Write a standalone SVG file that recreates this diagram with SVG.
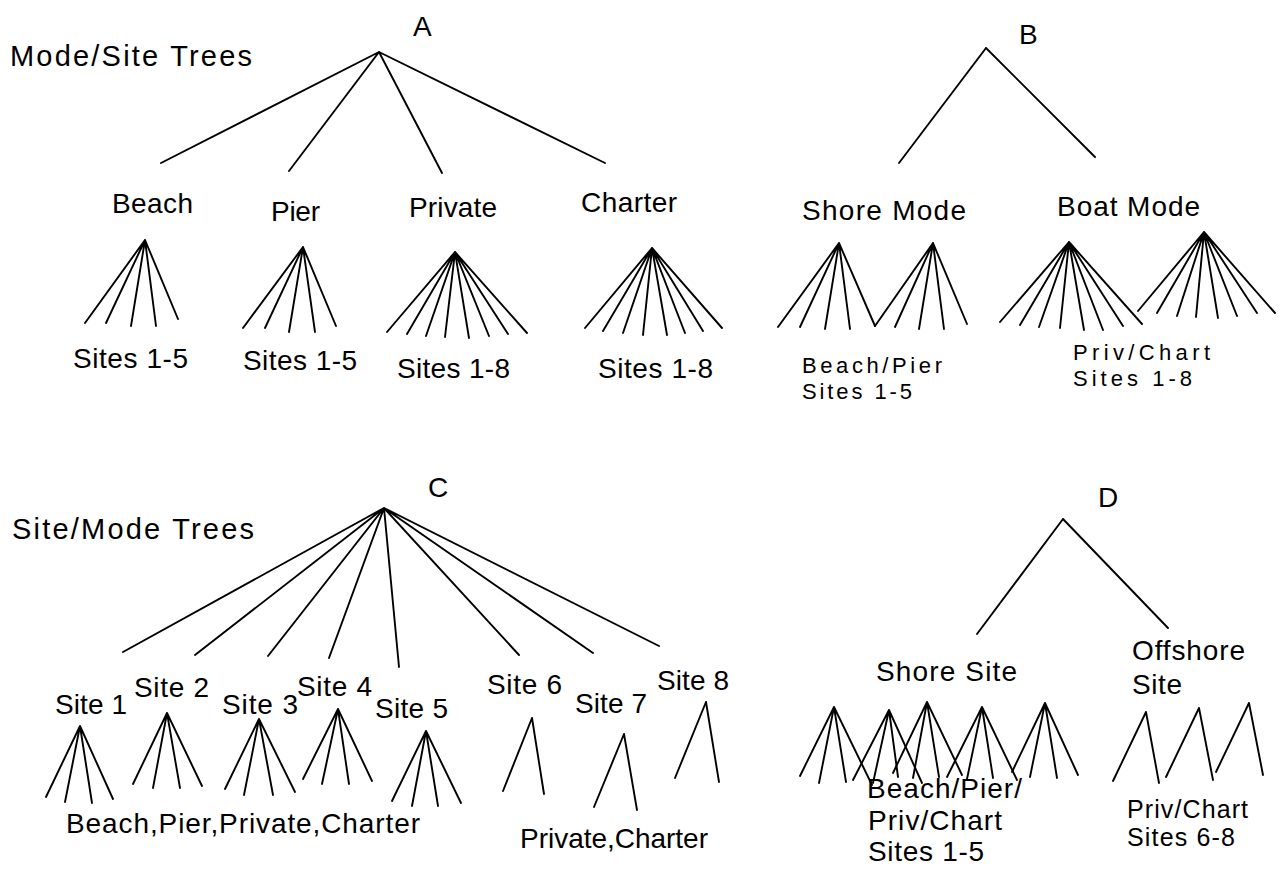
<svg xmlns="http://www.w3.org/2000/svg" width="1280" height="869" viewBox="0 0 1280 869">
  <style>
    .bg { fill: #ffffff; }
    .edge { stroke: #000; stroke-width: 1.9; fill: none; stroke-linecap: round; }
    text { font-family: "Liberation Sans", Arial, sans-serif; fill: #000; }
    .title { font-size: 29px; }
    .big { font-size: 28px; }
    .head { font-size: 28px; }
    .small { font-size: 22px; }
    .mid { font-size: 25px; }
  </style>
  <rect class="bg" x="0" y="0" width="1280" height="869"/>

  <!-- all tree branches -->
  <g id="connectors" class="edge">
    <!-- A: mode/site tree -->
    <path d="M379,52 L161,163 M379,52 L289,171 M379,52 L442,173 M379,52 L605,163"/>
    <path d="M145,240 L85,323 M145,240 L106,323 M145,240 L131,326 M145,240 L156,326 M145,240 L178,319"/>
    <path d="M303,247 L243,328 M303,247 L265,328 M303,247 L289,332 M303,247 L315,332 M303,247 L336,326"/>
    <path d="M455,252 L387,332 M455,252 L407,334 M455,252 L426,336 M455,252 L445,337 M455,252 L469,338 M455,252 L489,336 M455,252 L508,334 M455,252 L527,333"/>
    <path d="M652,248 L585,328 M652,248 L603,331 M652,248 L623,333 M652,248 L643,335 M652,248 L667,335 M652,248 L685,333 M652,248 L703,331 M652,248 L722,328"/>

    <!-- B: shore/boat tree -->
    <path d="M986,48 L899,163 M986,48 L1095,157"/>
    <path d="M839,243 L778,327 M839,243 L800,327 M839,243 L825,329 M839,243 L850,329 M839,243 L875,326"/>
    <path d="M933,243 L875,326 M933,243 L895,327 M933,243 L919,329 M933,243 L944,329 M933,243 L967,324"/>
    <path d="M1069,242 L1000,322 M1069,242 L1020,325 M1069,242 L1039,327 M1069,242 L1060,328 M1069,242 L1084,330 M1069,242 L1103,330 M1069,242 L1123,326 M1069,242 L1142,324"/>
    <path d="M1204,232 L1138,311 M1204,232 L1157,313 M1204,232 L1177,316 M1204,232 L1196,317 M1204,232 L1218,318 M1204,232 L1237,316 M1204,232 L1257,313 M1204,232 L1275,313"/>

    <!-- C: site/mode tree -->
    <path d="M384,508 L123,652 M384,508 L195,655 M384,508 L268,656 M384,508 L329,658 M384,508 L399,667 M384,508 L519,655 M384,508 L593,653 M384,508 L659,646"/>
    <path d="M80,726 L46,797 M80,726 L65,802 M80,726 L92,803 M80,726 L113,799"/>
    <path d="M167,713 L133,784 M167,713 L153,788 M167,713 L180,788 M167,713 L202,786"/>
    <path d="M259,719 L225,789 M259,719 L244,795 M259,719 L273,795 M259,719 L295,792"/>
    <path d="M338,709 L303,779 M338,709 L322,784 M338,709 L349,784 M338,709 L372,781"/>
    <path d="M426,731 L392,801 M426,731 L412,806 M426,731 L438,806 M426,731 L461,803"/>
    <path d="M532,718 L503,791 M532,718 L544,794"/>
    <path d="M624,734 L594,807 M624,734 L637,810"/>
    <path d="M706,702 L675,778 M706,702 L719,782"/>

    <!-- D: shore/offshore tree -->
    <path d="M1063,519 L977,634 M1063,519 L1168,628"/>
    <path d="M834,707 L800,776 M834,707 L819,783 M834,707 L846,782 M834,707 L872,785"/>
    <path d="M889,710 L853,780 M889,710 L873,783 M889,710 L898,777 M889,710 L922,783"/>
    <path d="M927,702 L893,773 M927,702 L913,778 M927,702 L939,777 M927,702 L962,775"/>
    <path d="M982,707 L947,777 M982,707 L967,779 M982,707 L993,778 M982,707 L1017,780"/>
    <path d="M1045,703 L1012,772 M1045,703 L1030,777 M1045,703 L1057,778 M1045,703 L1078,775"/>
    <path d="M1146,712 L1113,781 M1146,712 L1159,783"/>
    <path d="M1199,708 L1166,777 M1199,708 L1213,780"/>
    <path d="M1249,703 L1216,772 M1249,703 L1263,775"/>
  </g>

  <!-- A -->
  <g id="title-mode-site"><text class="title" x="10" y="66" textLength="242" lengthAdjust="spacing">Mode/Site Trees</text></g>
  <g id="root-a"><text class="head" x="413" y="36">A</text></g>
  <g id="mode-beach"><text class="big" x="112" y="213" textLength="81" lengthAdjust="spacing">Beach</text></g>
  <g id="mode-pier"><text class="big" x="271" y="221" textLength="49" lengthAdjust="spacing">Pier</text></g>
  <g id="mode-private"><text class="big" x="409" y="217" textLength="88" lengthAdjust="spacing">Private</text></g>
  <g id="mode-charter"><text class="big" x="581" y="212" textLength="96" lengthAdjust="spacing">Charter</text></g>
  <g id="sites-beach"><text class="big" x="73" y="368" textLength="115" lengthAdjust="spacing">Sites 1-5</text></g>
  <g id="sites-pier"><text class="big" x="243" y="370" textLength="114" lengthAdjust="spacing">Sites 1-5</text></g>
  <g id="sites-private"><text class="big" x="397" y="378" textLength="113" lengthAdjust="spacing">Sites 1-8</text></g>
  <g id="sites-charter"><text class="big" x="598" y="378" textLength="115" lengthAdjust="spacing">Sites 1-8</text></g>

  <!-- B -->
  <g id="root-b"><text class="head" x="1019" y="44">B</text></g>
  <g id="shore-mode"><text class="big" x="802" y="220" textLength="164" lengthAdjust="spacing">Shore Mode</text></g>
  <g id="boat-mode"><text class="big" x="1057" y="216" textLength="143" lengthAdjust="spacing">Boat Mode</text></g>
  <g id="shore-mode-sites">
    <text class="small" x="802" y="373" textLength="140" lengthAdjust="spacing">Beach/Pier</text>
    <text class="small" x="802" y="399" textLength="110" lengthAdjust="spacing">Sites 1-5</text>
  </g>
  <g id="boat-mode-sites">
    <text class="small" x="1073" y="360" textLength="137" lengthAdjust="spacing">Priv/Chart</text>
    <text class="small" x="1073" y="386" textLength="119" lengthAdjust="spacing">Sites 1-8</text>
  </g>

  <!-- C -->
  <g id="title-site-mode"><text class="title" x="12" y="539" textLength="242" lengthAdjust="spacing">Site/Mode Trees</text></g>
  <g id="root-c"><text class="head" x="428" y="497">C</text></g>
  <g id="site-1"><text class="big" x="55" y="714" textLength="72" lengthAdjust="spacing">Site 1</text></g>
  <g id="site-2"><text class="big" x="134" y="697" textLength="75" lengthAdjust="spacing">Site 2</text></g>
  <g id="site-3"><text class="big" x="222" y="714" textLength="76" lengthAdjust="spacing">Site 3</text></g>
  <g id="site-4"><text class="big" x="297" y="696" textLength="75" lengthAdjust="spacing">Site 4</text></g>
  <g id="site-5"><text class="big" x="375" y="718" textLength="73" lengthAdjust="spacing">Site 5</text></g>
  <g id="site-6"><text class="big" x="487" y="694" textLength="75" lengthAdjust="spacing">Site 6</text></g>
  <g id="site-7"><text class="big" x="575" y="713" textLength="72" lengthAdjust="spacing">Site 7</text></g>
  <g id="site-8"><text class="big" x="657" y="690" textLength="72" lengthAdjust="spacing">Site 8</text></g>
  <g id="modes-sites-1-5"><text class="big" x="66" y="833" textLength="354" lengthAdjust="spacing">Beach,Pier,Private,Charter</text></g>
  <g id="modes-sites-6-8"><text class="big" x="520" y="848" textLength="188" lengthAdjust="spacing">Private,Charter</text></g>

  <!-- D -->
  <g id="root-d"><text class="head" x="1098" y="507">D</text></g>
  <g id="shore-site"><text class="big" x="876" y="681" textLength="141" lengthAdjust="spacing">Shore Site</text></g>
  <g id="offshore-site">
    <text class="big" x="1132" y="660" textLength="113" lengthAdjust="spacing">Offshore</text>
    <text class="big" x="1132" y="694" textLength="50" lengthAdjust="spacing">Site</text>
  </g>
  <g id="shore-site-modes">
    <text class="big" x="867" y="798" textLength="155" lengthAdjust="spacing">Beach/Pier/</text>
    <text class="big" x="868" y="830" textLength="134" lengthAdjust="spacing">Priv/Chart</text>
    <text class="big" x="868" y="861" textLength="116" lengthAdjust="spacing">Sites 1-5</text>
  </g>
  <g id="offshore-site-modes">
    <text class="mid" x="1127" y="818" textLength="121" lengthAdjust="spacing">Priv/Chart</text>
    <text class="mid" x="1127" y="846" textLength="108" lengthAdjust="spacing">Sites 6-8</text>
  </g>
</svg>
